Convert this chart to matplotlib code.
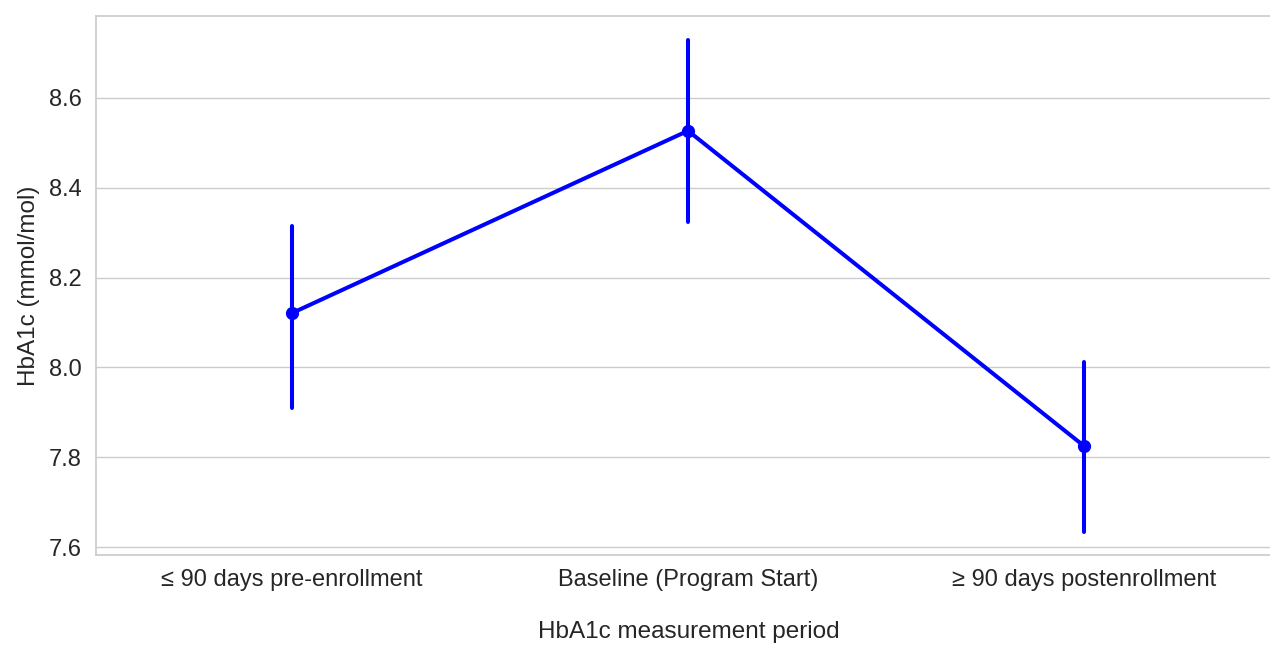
import matplotlib
matplotlib.use("Agg")
import matplotlib.pyplot as plt

categories = ["≤ 90 days pre-enrollment", "Baseline (Program Start)", "≥ 90 days postenrollment"]
means = [8.121, 8.527, 7.825]
ci_low = [7.910, 8.324, 7.633]
ci_high = [8.315, 8.729, 8.012]
yticks = [7.6, 7.8, 8.0, 8.2, 8.4, 8.6]

plt.rcParams['font.family'] = ['Liberation Sans', 'DejaVu Sans']

W, H = 1270, 648
fig = plt.figure(figsize=(W / 100, H / 100), dpi=100)
left, right, top, bottom = 96, 1282, 16, 555
ax = fig.add_axes([left / W, (H - bottom) / H, (right - left) / W, (bottom - top) / H])

x = list(range(len(categories)))
for xi, lo, hi in zip(x, ci_low, ci_high):
    ax.plot([xi, xi], [lo, hi], color="blue", lw=2.9, solid_capstyle="round", zorder=3)
ax.plot(x, means, color="blue", lw=2.9, marker="o", markersize=8.5, zorder=4,
        solid_capstyle="round")

ax.set_xlim(-0.495, 2.5)
ax.set_ylim(7.5822, 8.7826)
ax.set_xticks(x)
ax.set_xticklabels(categories)
ax.set_yticks(yticks)
ax.set_yticklabels([f"{v:.1f}" for v in yticks])

ax.grid(axis="y", color="#cccccc", lw=1.0)
ax.grid(axis="x", visible=False)
ax.set_axisbelow(True)
for s in ax.spines.values():
    s.set_color("#cccccc")
    s.set_linewidth(1.25)

ax.tick_params(axis="both", length=0, labelsize=17, labelcolor="#262626")
ax.tick_params(axis="x", pad=10)
ax.tick_params(axis="y", pad=10)
ax.set_xlabel("HbA1c measurement period", fontsize=17.5, color="#262626", labelpad=22)
ax.set_ylabel("HbA1c (mmol/mol)", fontsize=17.5, color="#262626", labelpad=6.5)

fig.savefig("out.png", dpi=100)
